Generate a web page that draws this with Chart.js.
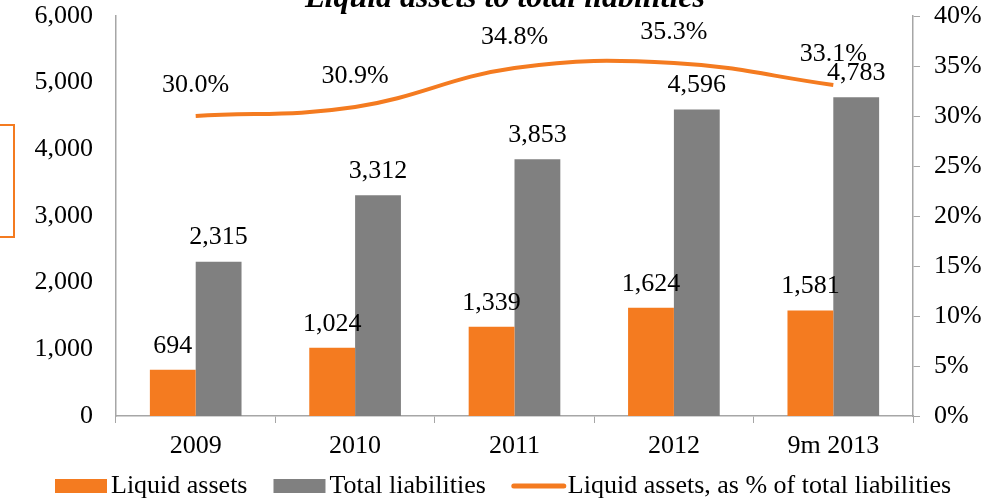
<!DOCTYPE html>
<html>
<head>
<meta charset="utf-8">
<script src="https://cdn.jsdelivr.net/npm/chart.js@4/dist/chart.umd.min.js"></script>
<style>
  html, body { margin: 0; padding: 0; background: #fff; }
  #wrap { width: 984px; height: 499px; position: relative; }
</style>
</head>
<body>
<div id="wrap"><canvas id="liqChart"></canvas></div>
<script>
const years = ["2009", "2010", "2011", "2012", "9m 2013"];
const liquidAssets = [694, 1024, 1339, 1624, 1581];
const totalLiabilities = [2315, 3312, 3853, 4596, 4783];
const liquidPct = [30.0, 30.9, 34.8, 35.3, 33.1];

const ORANGE = "#F47B20";
const GREY = "#808080";
const AXIS = "#A6A6A6";
const FONT = "'Liberation Serif', 'Times New Roman', serif";
const FSIZE = 26;

// value labels over bars and line points
const valueLabels = {
  id: "valueLabels",
  afterDatasetsDraw(chart) {
    const ctx = chart.ctx;
    ctx.save();
    ctx.font = FSIZE + "px " + FONT;
    ctx.fillStyle = "#000";
    ctx.textAlign = "center";
    ctx.textBaseline = "middle";
    chart.data.datasets.forEach((ds, i) => {
      const meta = chart.getDatasetMeta(i);
      meta.data.forEach((el, j) => {
        if (ds.type === "line") {
          ctx.fillText(ds.data[j].toFixed(1) + "%", el.x, el.y - 31);
        } else {
          ctx.fillText(ds.data[j].toLocaleString("en-US"), el.x, el.y - 24);
        }
      });
    });
    ctx.restore();
  },
};

// title (cut off at top) and the stray orange box on the left
const extras = {
  id: "extras",
  afterDraw(chart) {
    const ctx = chart.ctx;
    ctx.save();
    ctx.font = "bold italic 32px " + FONT;
    ctx.fillStyle = "#000";
    ctx.textAlign = "center";
    ctx.textBaseline = "alphabetic";
    ctx.fillText("Liquid assets to total liabilities", 505, 7);
    ctx.strokeStyle = ORANGE;
    ctx.lineWidth = 2;
    ctx.strokeRect(-2, 125, 16, 112);
    ctx.restore();
  },
};

// legend along the bottom
const bottomLegend = {
  id: "bottomLegend",
  afterDraw(chart) {
    const ctx = chart.ctx;
    const y = 486;
    let x = 55;
    ctx.save();
    ctx.font = FSIZE + "px " + FONT;
    ctx.textBaseline = "middle";
    ctx.textAlign = "left";
    chart.data.datasets.forEach((ds) => {
      if (ds.type === "line") {
        ctx.strokeStyle = ds.borderColor;
        ctx.lineWidth = 5;
        ctx.lineCap = "round";
        ctx.beginPath();
        ctx.moveTo(x + 2, y);
        ctx.lineTo(x + 52, y);
        ctx.stroke();
      } else {
        ctx.fillStyle = ds.backgroundColor;
        ctx.fillRect(x, y - 7, 52, 14);
      }
      ctx.fillStyle = "#000";
      ctx.fillText(ds.label, x + 56, y);
      x += 56 + ctx.measureText(ds.label).width + 26;
    });
    ctx.restore();
  },
};

// keep the plot area where the reference has it
function noEdgePadding(scale) {
  scale.paddingTop = 0;
  scale.paddingBottom = 0;
}

const ctx = document.getElementById("liqChart").getContext("2d");
new Chart(ctx, {
  type: "bar",
  data: {
    labels: years,
    datasets: [
      {
        label: "Liquid assets",
        data: liquidAssets,
        backgroundColor: ORANGE,
        yAxisID: "y",
        order: 1,
        barPercentage: 1,
        categoryPercentage: 0.575,
      },
      {
        label: "Total liabilities",
        data: totalLiabilities,
        backgroundColor: GREY,
        yAxisID: "y",
        order: 1,
        barPercentage: 1,
        categoryPercentage: 0.575,
      },
      {
        type: "line",
        label: "Liquid assets, as % of total liabilities",
        data: liquidPct,
        borderColor: ORANGE,
        backgroundColor: ORANGE,
        borderWidth: 4,
        pointRadius: 0,
        tension: 0.4,
        yAxisID: "y1",
        order: 0,
      },
    ],
  },
  options: {
    responsive: true,
    maintainAspectRatio: false,
    animation: false,
    layout: { padding: { top: 16, left: 0, right: 0, bottom: 0 } },
    plugins: {
      legend: { display: false },
      tooltip: { enabled: false },
      title: { display: false },
    },
    scales: {
      x: {
        grid: {
          offset: true,
          drawOnChartArea: false,
          color: AXIS,
          tickLength: 7,
        },
        border: { color: AXIS, width: 1.5 },
        ticks: { color: "#000", font: { family: FONT, size: FSIZE }, padding: 8 },
        afterFit(scale) { scale.height = 83; },
      },
      y: {
        position: "left",
        min: 0,
        max: 6000,
        ticks: {
          stepSize: 1000,
          color: "#000",
          font: { family: FONT, size: FSIZE },
          padding: 23,
          callback: (v) => v.toLocaleString("en-US"),
        },
        grid: { display: false, drawTicks: false },
        border: { color: AXIS, width: 1.5 },
        afterFit(scale) {
          scale.width = 116;
          noEdgePadding(scale);
        },
      },
      y1: {
        position: "right",
        min: 0,
        max: 40,
        ticks: {
          stepSize: 5,
          color: "#000",
          font: { family: FONT, size: FSIZE },
          padding: 14,
          callback: (v) => v + "%",
        },
        grid: { drawOnChartArea: false, color: AXIS, tickLength: 7 },
        border: { color: AXIS, width: 1.5 },
        afterFit(scale) {
          scale.width = 71;
          noEdgePadding(scale);
        },
      },
    },
  },
  plugins: [valueLabels, extras, bottomLegend],
});
</script>
</body>
</html>
